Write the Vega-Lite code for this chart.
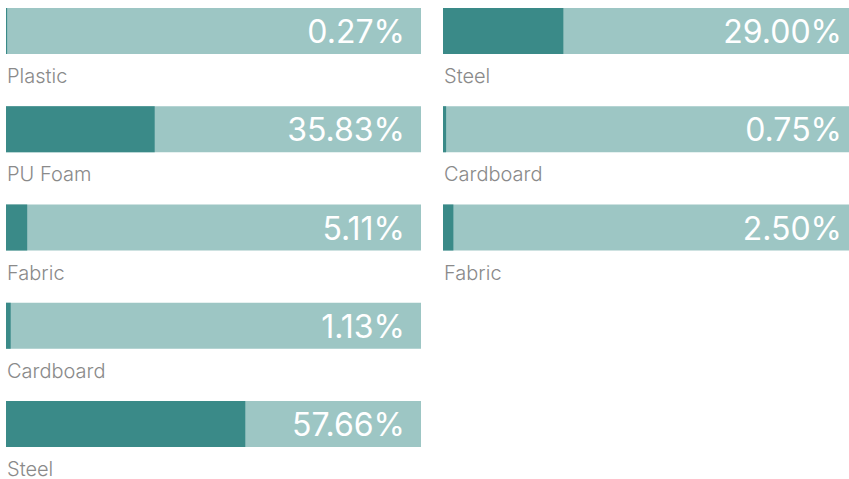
{
  "$schema": "https://vega.github.io/schema/vega-lite/v6.json",
  "padding": {"left": 6, "top": 8, "right": 0, "bottom": 0},
  "background": "#ffffff",
  "spacing": 22,
  "config": {
    "view": {"stroke": null},
    "axis": {"disable": true},
    "text": {"font": "Inter"}
  },
  "datasets": {
    "left": [
      {"row": 1, "material": "Plastic", "share": 0.0027},
      {"row": 2, "material": "PU Foam", "share": 0.3583},
      {"row": 3, "material": "Fabric", "share": 0.0511},
      {"row": 4, "material": "Cardboard", "share": 0.0113},
      {"row": 5, "material": "Steel", "share": 0.5766}
    ],
    "right": [
      {"row": 1, "material": "Steel", "share": 0.29},
      {"row": 2, "material": "Cardboard", "share": 0.0075},
      {"row": 3, "material": "Fabric", "share": 0.025}
    ]
  },
  "hconcat": [
    {
      "width": 415,
      "height": 439,
      "data": {"name": "left"},
      "encoding": {
        "y": {"field": "row", "type": "ordinal", "scale": {"domain": [1, 2, 3, 4, 5], "paddingInner": 0.5318, "paddingOuter": 0}}
      },
      "layer": [
        {"mark": {"type": "bar", "color": "#9dc6c4"}, "encoding": {"x": {"datum": 1, "type": "quantitative", "scale": {"domain": [0, 1]}}}},
        {"mark": {"type": "bar", "color": "#3a8a88"}, "encoding": {"x": {"field": "share", "type": "quantitative", "scale": {"domain": [0, 1]}}}},
        {"mark": {"type": "text", "align": "right", "baseline": "alphabetic", "dx": -16, "dy": 12, "fontSize": 32, "color": "#ffffff"},
         "encoding": {"x": {"datum": 1, "type": "quantitative"}, "text": {"field": "share", "type": "quantitative", "format": ".2%"}}},
        {"mark": {"type": "text", "align": "left", "baseline": "alphabetic", "dx": 1, "dy": 52, "fontSize": 20, "fontWeight": 300, "color": "#8a8a8a"},
         "encoding": {"x": {"datum": 0, "type": "quantitative"}, "text": {"field": "material"}}}
      ]
    },
    {
      "width": 415,
      "height": 439,
      "data": {"name": "right"},
      "encoding": {
        "y": {"field": "row", "type": "ordinal", "scale": {"domain": [1, 2, 3, 4, 5], "paddingInner": 0.5318, "paddingOuter": 0}}
      },
      "layer": [
        {"mark": {"type": "bar", "color": "#9dc6c4"}, "encoding": {"x": {"datum": 1, "type": "quantitative", "scale": {"domain": [0, 1]}}}},
        {"mark": {"type": "bar", "color": "#3a8a88"}, "encoding": {"x": {"field": "share", "type": "quantitative", "scale": {"domain": [0, 1]}}}},
        {"mark": {"type": "text", "align": "right", "baseline": "alphabetic", "dx": -16, "dy": 12, "fontSize": 32, "color": "#ffffff"},
         "encoding": {"x": {"datum": 1, "type": "quantitative"}, "text": {"field": "share", "type": "quantitative", "format": ".2%"}}},
        {"mark": {"type": "text", "align": "left", "baseline": "alphabetic", "dx": 1, "dy": 52, "fontSize": 20, "fontWeight": 300, "color": "#8a8a8a"},
         "encoding": {"x": {"datum": 0, "type": "quantitative"}, "text": {"field": "material"}}}
      ]
    }
  ]
}
